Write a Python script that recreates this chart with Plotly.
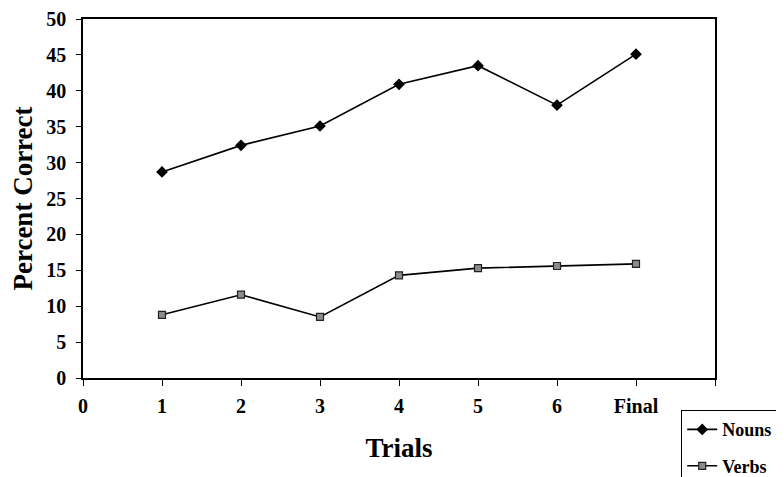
import plotly.graph_objects as go

trial_pos = [1, 2, 3, 4, 5, 6, 7]
tick_positions = [0, 1, 2, 3, 4, 5, 6, 7, 8]
tick_labels = ["0", "1", "2", "3", "4", "5", "6", "Final", ""]
nouns = [28.7, 32.4, 35.1, 40.9, 43.5, 38.0, 45.1]
verbs = [8.8, 11.6, 8.5, 14.3, 15.3, 15.6, 15.9]

FONT = "Liberation Serif"

W, H = 776, 469
L, R, T, B = 75, 69, 11, 99
pw, ph = W - L - R, H - T - B

fig = go.Figure()
fig.add_trace(go.Scatter(
    x=trial_pos, y=nouns, name="Nouns", mode="lines+markers", legendgroup="a",
    line=dict(color="black", width=1.6),
    marker=dict(symbol="diamond", size=9, color="black"),
))
fig.add_trace(go.Scatter(
    x=trial_pos, y=verbs, name="Verbs", mode="lines+markers", legendgroup="b",
    line=dict(color="black", width=1.6),
    marker=dict(symbol="square", size=7, color="#8c8c8c", line=dict(color="#222222", width=1.2)),
))

fig.update_layout(
    width=W, height=H,
    margin=dict(l=L, r=R, t=T, b=B, autoexpand=False),
    paper_bgcolor="white", plot_bgcolor="white",
    font=dict(family=FONT, color="black"),
    showlegend=True,
    legend=dict(
        x=(673 - L) / pw, y=(ph - (402 - T)) / ph,
        xanchor="left", yanchor="top",
        bordercolor="black", borderwidth=1.2, bgcolor="white",
        font=dict(family=FONT, size=18, color="black", weight="bold"),
        tracegroupgap=10,
    ),
    xaxis=dict(
        range=[0, 8], tickmode="array", tickvals=tick_positions, ticktext=tick_labels,
        showline=True, linecolor="black", linewidth=1.5, mirror=True,
        ticks="outside", ticklen=6, tickcolor="black", tickwidth=1.3,
        showgrid=False, zeroline=False, ticklabelstandoff=3,
        tickfont=dict(family=FONT, size=20, color="black", weight="bold"),
        title=dict(text="<b>Trials</b>", font=dict(family=FONT, size=27, color="black"), standoff=22),
    ),
    yaxis=dict(
        range=[0, 50], dtick=5, tick0=0,
        showline=True, linecolor="black", linewidth=1.5, mirror=True,
        ticks="outside", ticklen=5, tickcolor="black", tickwidth=1.3,
        showgrid=False, zeroline=False, ticklabelstandoff=6,
        tickfont=dict(family=FONT, size=20, color="black", weight="bold"),
        title=dict(text="<b>Percent Correct</b>", font=dict(family=FONT, size=27, color="black"), standoff=10),
    ),
)

fig.write_html("out.html")
